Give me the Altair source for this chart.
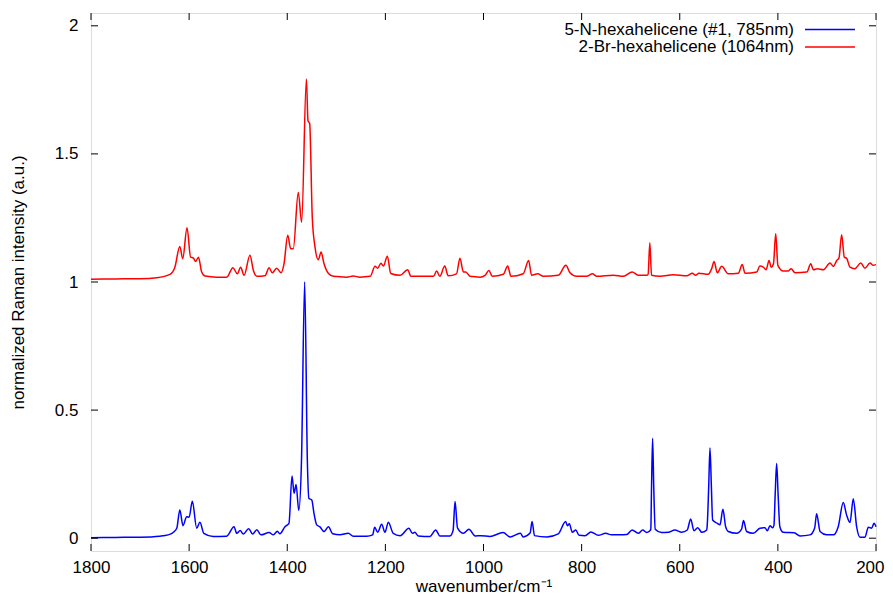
import altair as alt
import pandas as pd

# ---- data ----
blue_name = "5-N-hexahelicene (#1, 785nm)"
red_name = "2-Br-hexahelicene (1064nm)"

blue_wn = [1800, 1750, 1700, 1660, 1643, 1632, 1625, 1619, 1612.5, 1605, 1600, 1593.5, 1584.5, 1578, 1570, 1551,
           1523.5, 1508.5, 1503, 1496, 1489.6, 1478.6, 1470.5, 1462, 1453.5, 1437, 1428.4, 1420, 1415, 1404.6,
           1396.5, 1390.3, 1386, 1382, 1376.5, 1371, 1364.5, 1359, 1356, 1350, 1345.5, 1340, 1333.3, 1325, 1316,
           1307.5, 1292.5, 1275.6, 1265.4, 1238, 1226, 1221.8, 1215.7, 1207.5, 1200.8, 1194, 1184, 1170, 1152,
           1145, 1140, 1133, 1109, 1097.5, 1089, 1068.3, 1062, 1058, 1053, 1041, 1029.6, 1017, 1005, 987, 960,
           946, 925, 919, 905, 901, 896, 871, 847.6, 832.5, 829, 825, 819, 812, 805, 793, 781, 766, 751, 739, 722,
           708, 697, 684.5, 675.6, 667.5, 662, 659, 657.5, 655.3, 653, 650, 637, 623, 610, 596, 584.7, 577.7, 571,
           563.4, 555, 545, 544, 541, 538.4, 535.5, 533, 523.5, 518, 512, 506.5, 501, 484, 474, 470, 463.6, 450,
           436.6, 426.3, 421.6, 416, 410.7, 408, 405.5, 402.5, 399.5, 396, 389, 366.6, 355, 334.5, 325, 321, 314,
           300.6, 287, 277, 266.7, 260, 253, 246.3, 239.5, 232.7, 222.5, 215.7, 209, 204, 200]
blue_int = [0.002, 0.003, 0.004, 0.008, 0.013, 0.023, 0.04, 0.110, 0.049, 0.084, 0.082, 0.144, 0.039, 0.062, 0.019,
            0.007, 0.008, 0.045, 0.019, 0.030, 0.016, 0.037, 0.016, 0.033, 0.013, 0.022, 0.013, 0.027, 0.017,
            0.045, 0.058, 0.243, 0.175, 0.210, 0.108, 0.30, 1.0, 0.30, 0.156, 0.149, 0.097, 0.052, 0.044, 0.026,
            0.045, 0.017, 0.013, 0.019, 0.008, 0.008, 0.013, 0.043, 0.023, 0.054, 0.023, 0.062, 0.019, 0.010,
            0.039, 0.019, 0.023, 0.009, 0.007, 0.032, 0.009, 0.009, 0.03, 0.143, 0.04, 0.019, 0.035, 0.009, 0.010,
            0.007, 0.022, 0.005, 0.019, 0.005, 0.02, 0.065, 0.01, 0.005, 0.017, 0.065, 0.049, 0.056, 0.023, 0.032,
            0.011, 0.010, 0.024, 0.011, 0.019, 0.013, 0.013, 0.014, 0.032, 0.019, 0.032, 0.022, 0.027, 0.035, 0.2,
            0.39, 0.2, 0.035, 0.022, 0.023, 0.032, 0.023, 0.032, 0.075, 0.029, 0.041, 0.023, 0.032, 0.05, 0.2,
            0.352, 0.2, 0.071, 0.058, 0.052, 0.113, 0.045, 0.026, 0.019, 0.035, 0.069, 0.026, 0.019, 0.039, 0.041,
            0.029, 0.049, 0.041, 0.05, 0.17, 0.292, 0.17, 0.045, 0.023, 0.021, 0.009, 0.013, 0.04, 0.095, 0.026,
            0.013, 0.013, 0.045, 0.139, 0.091, 0.061, 0.154, 0.045, 0.004, 0.004, 0.043, 0.039, 0.058, 0.045]

red_wn = [1800, 1750, 1700, 1666, 1639, 1629, 1619, 1613, 1604.3, 1597, 1591.5, 1586.7, 1581, 1574.4, 1567.6, 1544,
          1523.4, 1510.6, 1501.8, 1495, 1488, 1476, 1469, 1462, 1445.4, 1437, 1430.5, 1421.5, 1412.7, 1406.6, 1399,
          1393, 1387.7, 1377.5, 1370.7, 1361, 1357.7, 1354.3, 1349, 1343.4, 1336.7, 1331, 1325, 1316, 1306, 1279,
          1265.4, 1252, 1231, 1221, 1215.7, 1209, 1204, 1196, 1189, 1170, 1154.6, 1148, 1136, 1102, 1095.4, 1089,
          1079, 1072, 1055, 1048, 1041, 1036, 1027.5, 1007, 997, 989, 982, 959.6, 950.7, 944, 919, 908, 902, 889.5,
          878, 847.6, 832, 823.7, 810, 790, 778, 769, 735.5, 715, 697, 684.5, 667.5, 664.5, 661, 657.5, 640, 613,
          586, 574.4, 567.6, 561, 542, 535, 530, 523.5, 514.6, 501, 480.7, 472.6, 467, 443, 436.6, 429.7, 424, 418,
          413.4, 409, 404.4, 400, 389, 378.7, 373, 365, 341, 333, 327.7, 319.6, 307, 293.8, 287, 280, 275.5, 270,
          264.6, 260, 253, 243, 231, 222.5, 212.3, 205.6, 200]
red_int = [1.011, 1.012, 1.013, 1.017, 1.030, 1.058, 1.139, 1.091, 1.212, 1.097, 1.094, 1.080, 1.097, 1.039, 1.023,
           1.019, 1.019, 1.056, 1.032, 1.058, 1.026, 1.104, 1.045, 1.022, 1.024, 1.056, 1.036, 1.054, 1.036, 1.071,
           1.182, 1.130, 1.130, 1.350, 1.233, 1.792, 1.629, 1.619, 1.253, 1.136, 1.087, 1.117, 1.071, 1.033, 1.022,
           1.019, 1.023, 1.019, 1.022, 1.061, 1.054, 1.073, 1.062, 1.101, 1.033, 1.026, 1.048, 1.022, 1.022, 1.022,
           1.043, 1.022, 1.062, 1.024, 1.032, 1.093, 1.039, 1.039, 1.022, 1.019, 1.026, 1.045, 1.022, 1.030, 1.062,
           1.022, 1.032, 1.084, 1.026, 1.032, 1.022, 1.026, 1.065, 1.036, 1.022, 1.022, 1.032, 1.022, 1.026, 1.022,
           1.039, 1.026, 1.026, 1.03, 1.153, 1.026, 1.022, 1.028, 1.024, 1.034, 1.026, 1.034, 1.030, 1.052, 1.080,
           1.036, 1.061, 1.032, 1.034, 1.068, 1.034, 1.039, 1.062, 1.058, 1.048, 1.084, 1.058, 1.071, 1.188, 1.065,
           1.043, 1.043, 1.052, 1.036, 1.039, 1.071, 1.048, 1.052, 1.048, 1.074, 1.061, 1.084, 1.093, 1.184, 1.097,
           1.093, 1.058, 1.052, 1.074, 1.054, 1.074, 1.065, 1.068]

x_ticks = [1800, 1600, 1400, 1200, 1000, 800, 600, 400, 200]
y_ticks = [0, 0.5, 1, 1.5, 2]

# ---- build chart ----
FONT = "Liberation Sans"
W, H = 785, 538
BLUE, RED = "#0000ff", "#ff0000"

df = pd.concat([
    pd.DataFrame({"wn": blue_wn, "intensity": blue_int, "series": blue_name}),
    pd.DataFrame({"wn": red_wn, "intensity": red_int, "series": red_name}),
])

xs = alt.Scale(domain=[200, 1800], reverse=True, nice=False, zero=False)
ys = alt.Scale(domain=[-0.05, 2.05], nice=False, zero=False)

x_axis = alt.Axis(values=x_ticks, format="d", title="wavenumber/cm\u207b\u00b9",
                  ticks=False, tickSize=0, domain=False, grid=False,
                  labelFont=FONT, labelFontSize=17, labelColor="#000", labelPadding=8,
                  labelFlush=False,
                  labelAlign={"condition": {"test": "datum.value == 200", "value": "right"}, "value": "center"},
                  labelOffset={"condition": {"test": "datum.value == 200", "value": 8}, "value": 0},
                  titleFont=FONT, titleFontSize=17, titleFontWeight="normal", titleColor="#000",
                  titleY=40, titleBaseline="alphabetic")
y_axis = alt.Axis(values=y_ticks, format="~g", title="normalized Raman intensity (a.u.)",
                  ticks=False, tickSize=0, domain=False, grid=False,
                  labelFont=FONT, labelFontSize=17, labelColor="#000", labelPadding=13,
                  labelFlush=False,
                  titleFont=FONT, titleFontSize=17, titleFontWeight="normal", titleColor="#000",
                  titleX=-73, titleY=H / 2, titleBaseline="middle")

lines = alt.Chart(df).mark_line(strokeWidth=1.5, interpolate="monotone").encode(
    x=alt.X("wn:Q", scale=xs, axis=x_axis),
    y=alt.Y("intensity:Q", scale=ys, axis=y_axis),
    color=alt.Color("series:N", scale=alt.Scale(domain=[blue_name, red_name], range=[BLUE, RED]), legend=None),
    detail="series:N",
)

xt = pd.DataFrame({"wn": x_ticks})
yt = pd.DataFrame({"intensity": y_ticks})
tick_style = dict(color="#000", strokeWidth=1)
bottom_ticks = alt.Chart(xt).mark_rule(**tick_style).encode(
    x=alt.X("wn:Q", scale=xs, axis=x_axis), y=alt.value(H), y2=alt.value(H - 7))
top_ticks = alt.Chart(xt).mark_rule(**tick_style).encode(
    x=alt.X("wn:Q", scale=xs, axis=x_axis), y=alt.value(0), y2=alt.value(7))
left_ticks = alt.Chart(yt).mark_rule(**tick_style).encode(
    y=alt.Y("intensity:Q", scale=ys, axis=y_axis), x=alt.value(0), x2=alt.value(7))
right_ticks = alt.Chart(yt).mark_rule(**tick_style).encode(
    y=alt.Y("intensity:Q", scale=ys, axis=y_axis), x=alt.value(W), x2=alt.value(W - 7))

def legend_entry(name, color, ypix):
    txt = alt.Chart(pd.DataFrame({"n": [name]})).mark_text(
        align="right", baseline="middle", font=FONT, fontSize=17, color="#000").encode(
        text="n:N", x=alt.value(703), y=alt.value(ypix))
    ln = alt.Chart(pd.DataFrame({"n": [name]})).mark_rule(color=color, strokeWidth=1.5).encode(
        x=alt.value(714), x2=alt.value(764), y=alt.value(ypix))
    return txt + ln

leg1 = legend_entry(blue_name, BLUE, 16.5)
leg2 = legend_entry(red_name, RED, 34)

chart = alt.layer(lines, bottom_ticks, top_ticks, left_ticks, right_ticks, leg1, leg2).properties(
    width=W, height=H,
    autosize=alt.AutoSizeParams(type="none"),
    padding={"left": 83, "top": 5, "right": 9, "bottom": 43},
).configure_view(stroke="#000", strokeWidth=1).configure(background="white")

chart.save("out.html", embed_options={"renderer": "svg", "actions": False})
